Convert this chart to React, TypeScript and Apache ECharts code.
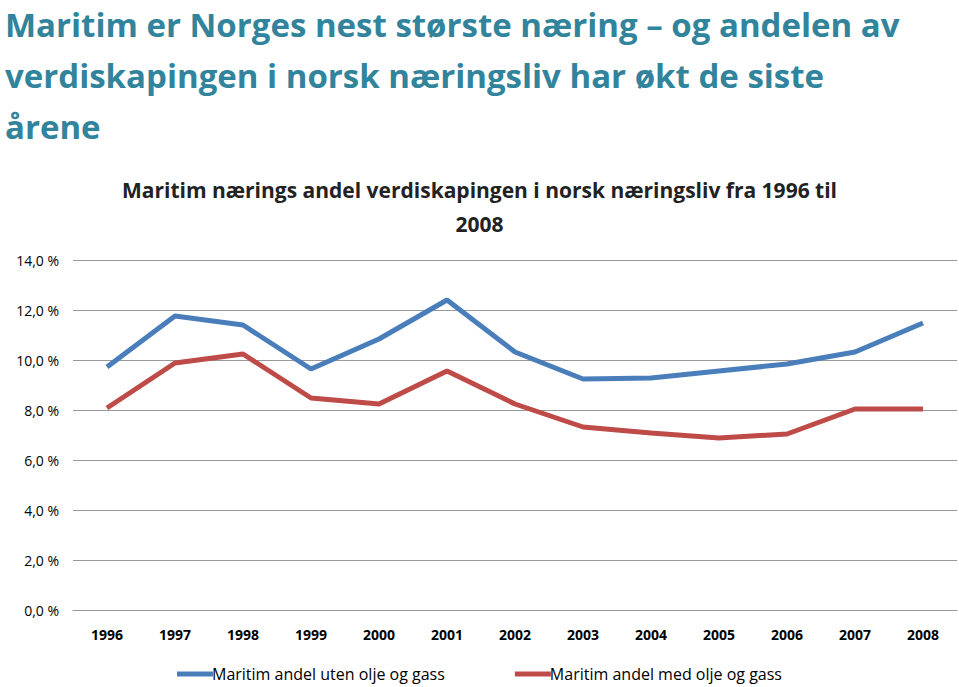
import React, { useEffect, useRef } from "react";
import * as echarts from "echarts";

const years = ["1996","1997","1998","1999","2000","2001","2002","2003","2004","2005","2006","2007","2008"];
const utenOljeGass = [9.72, 11.76, 11.4, 9.64, 10.84, 12.4, 10.32, 9.24, 9.28, 9.56, 9.84, 10.32, 11.48];
const medOljeGass = [8.08, 9.88, 10.24, 8.48, 8.24, 9.56, 8.24, 7.32, 7.08, 6.88, 7.04, 8.04, 8.04];
const seriesNames = ["Maritim andel uten olje og gass", "Maritim andel med olje og gass"];
const mainTitle = ["Maritim er Norges nest største næring – og andelen av", "verdiskapingen i norsk næringsliv har økt de siste", "årene"];
const chartTitle = ["Maritim nærings andel verdiskapingen i norsk næringsliv fra 1996 til", "2008"];

const FONT = "'Open Sans', sans-serif";

export default function App() {
  const ref = useRef<HTMLDivElement>(null);
  useEffect(() => {
    const chart = echarts.init(ref.current!, undefined, { renderer: "svg" });
    chart.setOption({
      animation: false,
      backgroundColor: "#ffffff",
      graphic: [
        ...mainTitle.map((t, i) => ({
          type: "text",
          left: 5,
          top: 4 + i * 51,
          style: { text: t, fill: "#31849B", font: `bold 33px ${FONT}`, lineHeight: 40 },
        })),
        ...chartTitle.map((t, i) => ({
          type: "text",
          left: "center",
          top: 179 + i * 34,
          style: { text: t, fill: "#222222", font: `bold 21px ${FONT}` },
        })),
      ],
      legend: {
        bottom: 0,
        left: "center",
        itemWidth: 36,
        itemHeight: 5,
        itemGap: 70,
        icon: "rect",
        textStyle: { fontFamily: FONT, fontSize: 16, color: "#000", padding: [0, 0, 0, -6] },
        data: seriesNames,
      },
      grid: { left: 73, right: 2, top: 260, bottom: 77 },
      xAxis: {
        type: "category",
        data: years,
        boundaryGap: true,
        axisLine: { lineStyle: { color: "#999" } },
        axisTick: { show: false },
        axisLabel: { fontFamily: FONT, fontWeight: "bold", fontSize: 14, color: "#000", margin: 17 },
      },
      yAxis: {
        type: "value",
        min: 0,
        max: 14,
        interval: 2,
        axisLine: { show: false },
        axisTick: { show: false },
        splitLine: { lineStyle: { color: "#999", width: 1 } },
        axisLabel: {
          fontFamily: FONT,
          fontSize: 14,
          color: "#000",
          margin: 14,
          formatter: (v: number) => v.toFixed(1).replace(".", ",") + " %",
        },
      },
      series: [
        {
          name: seriesNames[0],
          type: "line",
          data: utenOljeGass,
          symbol: "none",
          lineStyle: { color: "#4A7EBB", width: 5 },
          itemStyle: { color: "#4A7EBB" },
        },
        {
          name: seriesNames[1],
          type: "line",
          data: medOljeGass,
          symbol: "none",
          lineStyle: { color: "#BE4B48", width: 5 },
          itemStyle: { color: "#BE4B48" },
        },
      ],
    });
    return () => chart.dispose();
  }, []);
  return <div ref={ref} style={{ width: 959, height: 687, position: "absolute", left: 0, top: 0 }} />;
}
